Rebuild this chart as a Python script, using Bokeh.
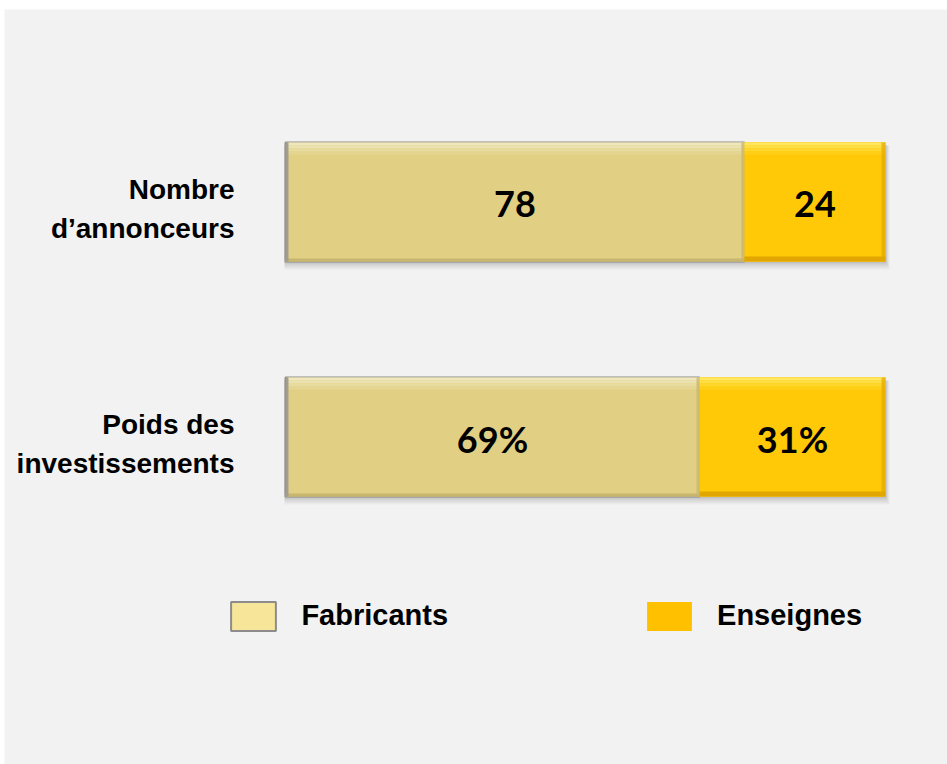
from bokeh.plotting import figure
from bokeh.models import Range1d, ColumnDataSource, Legend, LegendItem
from bokeh.core.properties import value
from bokeh.embed import file_html
from bokeh.resources import INLINE

# ---------------- data ----------------
categories = ["Nombre\nd\u2019annonceurs", "Poids des\ninvestissements"]
series = ["Fabricants", "Enseignes"]
fabricants = [78, 69]
enseignes = [24, 31]
fabricants_labels = ["78", "69%"]
enseignes_labels = ["24", "31%"]

# ---------------- layout / style ----------------
W, H = 947, 764
LEFT_PAD, TOP_PAD = 4, 9          # white strip around the grey panel
BAR_LEFT_PX = 285                 # page x of the 0 % edge
BAR_W_PX = 600                    # width of a 100 % bar
ROW_STEP_PX = 235                 # distance between rows
TOP_ROW_CENTER_PX = 201.5         # page y of the top row centre
BAR_H_PX = 119
SW_W, SW_H = 45, 29               # legend swatch size
LEG_X_PX, LEG_BOTTOM_PX = 231, 630

BG = "#F2F2F2"
FAB = "#E1CF83"
FAB_LEG = "#F7E599"
FAB_HI = ["#EFE8BF", "#EBE2B0", "#E7DCA0", "#E4D591"]
FAB_DK = "#C8B66E"
ENS = "#FFC907"
ENS_HI = ["#FFE760", "#FFDE45", "#FFD62C", "#FFCF18"]
ENS_DK = "#E2A600"

px_x = 1.0 / BAR_W_PX
px_y = 1.0 / ROW_STEP_PX
fw, fh = W - LEFT_PAD, H - TOP_PAD
x_start = -(BAR_LEFT_PX - LEFT_PAD) * px_x
x_end = x_start + fw * px_x
n = len(categories)
y_end = (n - 1) + (TOP_ROW_CENTER_PX - TOP_PAD) * px_y
y_start = y_end - fh * px_y

ys = [n - 1 - i for i in range(n)]
tot = [f + e for f, e in zip(fabricants, enseignes)]
fs = [f / t for f, t in zip(fabricants, tot)]
half = BAR_H_PX * px_y / 2

src = ColumnDataSource(dict(
    y=ys,
    top=[y + half for y in ys],
    bottom=[y - half for y in ys],
    zero=[0.0] * n,
    split=fs,
    one=[1.0] * n,
    fab_mid=[s / 2 for s in fs],
    ens_mid=[s + (1 - s) / 2 for s in fs],
    fab_lab=fabricants_labels,
    ens_lab=enseignes_labels,
    cat=categories,
))
d = src.data

p = figure(width=W, height=H, output_backend="svg", toolbar_location=None,
           x_range=Range1d(x_start, x_end), y_range=Range1d(y_start, y_end),
           x_axis_type=None, y_axis_type=None,
           min_border_left=LEFT_PAD, min_border_top=TOP_PAD,
           min_border_right=0, min_border_bottom=0,
           background_fill_color=BG, border_fill_color="white",
           outline_line_color=None)
p.xgrid.visible = False
p.ygrid.visible = False

# soft shadow
for k, a in [(8, 0.05), (6, 0.07), (4, 0.09), (2, 0.12)]:
    p.quad(left=[v - 1 * px_x for v in d["zero"]],
           right=[v + k * 0.5 * px_x for v in d["one"]],
           top=[t - 3 * px_y for t in d["top"]],
           bottom=[b - k * px_y for b in d["bottom"]],
           fill_color="#555555", fill_alpha=a, line_color=None)

# base bars (also used by the legend)
fab_base = p.quad(left="zero", right="split", top="top", bottom="bottom", source=src,
                  fill_color=FAB_LEG, line_color="#8C8C8C", line_width=2)
ens_base = p.quad(left="split", right="one", top="top", bottom="bottom", source=src,
                  fill_color="#FFC000", line_color=None)
# visible bar faces
p.quad(left=[v + 1 * px_x for v in d["zero"]], right=d["split"], top=d["top"],
       bottom=d["bottom"], fill_color=FAB, line_color=None)
p.quad(left=d["split"], right=d["one"], top=d["top"], bottom=d["bottom"],
       fill_color=ENS, line_color=None)

# bevel: top highlights (stepped gradient)
for i, c in enumerate(FAB_HI):
    p.quad(left=[v + 2 * px_x for v in d["zero"]], right=d["split"],
           top=[t - 3 * i * px_y for t in d["top"]],
           bottom=[t - 3 * (i + 1) * px_y for t in d["top"]],
           fill_color=c, line_color=None)
for i, c in enumerate(ENS_HI):
    p.quad(left=d["split"], right=d["one"],
           top=[t - 3 * i * px_y for t in d["top"]],
           bottom=[t - 3 * (i + 1) * px_y for t in d["top"]],
           fill_color=c, line_color=None)
# bevel: bottom / right darker edges
p.quad(left=d["zero"], right=d["split"],
       top=[b + 3 * px_y for b in d["bottom"]], bottom=d["bottom"],
       fill_color=FAB_DK, line_color=None)
p.quad(left=d["split"], right=d["one"],
       top=[b + 5 * px_y for b in d["bottom"]], bottom=d["bottom"],
       fill_color=ENS_DK, line_color=None)
p.quad(left=[v - 4 * px_x for v in d["one"]], right=d["one"],
       top=d["top"], bottom=d["bottom"],
       fill_color=ENS_DK, fill_alpha=0.7, line_color=None)
p.quad(left=[v - 3 * px_x for v in d["split"]], right=d["split"],
       top=d["top"], bottom=d["bottom"],
       fill_color=FAB_DK, fill_alpha=0.8, line_color=None)
# left grey edge
p.quad(left=d["zero"], right=[v + 3 * px_x for v in d["zero"]],
       top=d["top"], bottom=d["bottom"],
       fill_color="#A29E8E", line_color=None)

# value labels
p.text(x="fab_mid", y="y", text="fab_lab", source=src, y_offset=2,
       text_font=value("Lato"), text_font_style="bold", text_font_size="36px",
       text_align="center", text_baseline="middle", text_color="black")
p.text(x="ens_mid", y="y", text="ens_lab", source=src, y_offset=2,
       text_font=value("Lato"), text_font_style="bold", text_font_size="36px",
       text_align="center", text_baseline="middle", text_color="black")

# category labels
p.text(x="zero", y="y", text="cat", source=src, x_offset=-51, y_offset=7,
       text_font=value("Liberation Sans"), text_font_style="bold",
       text_font_size="28px", text_align="right", text_baseline="middle",
       text_color="black", text_line_height=1.25)

# legend: Bokeh insets area swatches by 10 % on each side
gw, gh = SW_W / 0.8, SW_H / 0.8
inset_x, inset_y = gw * 0.1, gh * 0.1
legend = Legend(items=[LegendItem(label=series[0], renderers=[fab_base]),
                       LegendItem(label=series[1], renderers=[ens_base])],
                orientation="horizontal",
                location=(LEG_X_PX - LEFT_PAD - inset_x, H - LEG_BOTTOM_PX - inset_y),
                glyph_width=round(gw), glyph_height=round(gh),
                label_standoff=20, spacing=193,
                padding=0, margin=0, border_line_color=None,
                background_fill_alpha=0, label_height=round(gh),
                label_text_font="Liberation Sans", label_text_font_style="bold",
                label_text_font_size="29px", label_text_color="black")
p.add_layout(legend)

open("out.html", "w").write(file_html(p, INLINE))
